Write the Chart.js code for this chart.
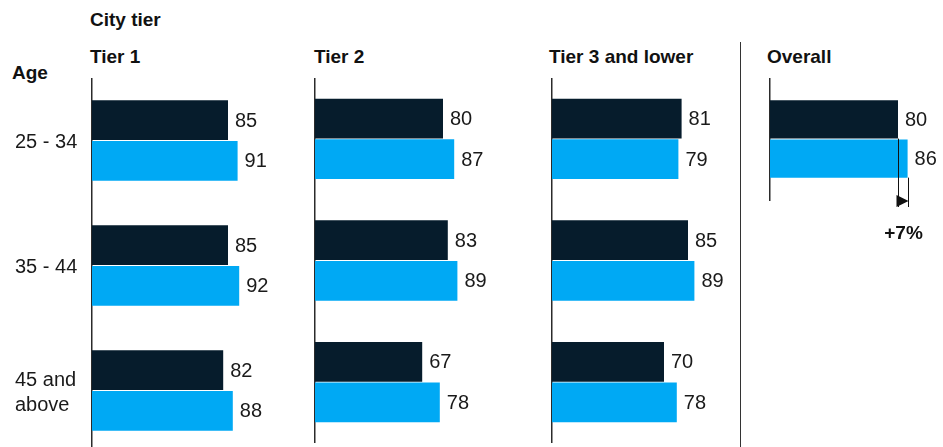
<!DOCTYPE html>
<html>
<head>
<meta charset="utf-8">
<script src="https://cdn.jsdelivr.net/npm/chart.js@4.4.0/dist/chart.umd.min.js"></script>
<style>
  body { margin: 0; width: 943px; height: 447px; overflow: hidden; background: #fff; position: relative;
         font-family: "Liberation Sans", Arial, sans-serif; color: #111; }
  .t { position: absolute; font-size: 19px; font-weight: bold; line-height: 22px; white-space: nowrap; }
  .box { position: absolute; }
  #sep { position: absolute; left: 740px; top: 42px; width: 1px; height: 405px; background: #333; }
</style>
</head>
<body>
<div class="t" style="left:90px; top:9px;">City tier</div>
<div class="t" style="left:90px; top:46px;">Tier 1</div>
<div class="t" style="left:314px; top:46px;">Tier 2</div>
<div class="t" style="left:549px; top:46px;">Tier 3 and lower</div>
<div class="t" style="left:767px; top:46px;">Overall</div>
<div class="t" style="left:12px; top:62px;">Age</div>
<div id="sep"></div>

<div class="box" style="left:0px; top:78px; width:300px; height:375px;"><canvas id="tier1"></canvas></div>
<div class="box" style="left:314px; top:78px; width:226px; height:365px;"><canvas id="tier2"></canvas></div>
<div class="box" style="left:551px; top:78px; width:188px; height:365px;"><canvas id="tier3"></canvas></div>
<div class="box" style="left:769px; top:78px; width:174px; height:172px;"><canvas id="overall"></canvas></div>

<script>
// data
const ageGroups = ["25 - 34", "35 - 44", ["45 and", "above"]];
const tier1Dark = [85, 85, 82];
const tier1Blue = [91, 92, 88];
const tier2Dark = [80, 83, 67];
const tier2Blue = [87, 89, 78];
const tier3Dark = [81, 85, 70];
const tier3Blue = [79, 89, 78];
const overallLabels = ["Overall"];
const overallDark = [80];
const overallBlue = [86];
const overallChange = "+7%";

const darkColor = "#061c2c";
const blueColor = "#00a9f4";
const pxPerUnit = 1.6;
const fontName = "'Liberation Sans', Arial, sans-serif";

// value labels next to the bars
const valueLabels = {
    id: 'valueLabels',
    afterDatasetsDraw(chart) {
        const ctx = chart.ctx;
        ctx.save();
        ctx.font = "20px " + fontName;
        ctx.fillStyle = "#1a1a1a";
        ctx.textBaseline = "middle";
        ctx.textAlign = "left";
        chart.data.datasets.forEach(function (ds, i) {
            const meta = chart.getDatasetMeta(i);
            meta.data.forEach(function (bar, j) {
                ctx.fillText(ds.data[j], bar.x + 7, bar.y + 1);
            });
        });
        ctx.restore();
    }
};

// difference marker under the overall bars
const changeMarker = {
    id: 'changeMarker',
    afterDatasetsDraw(chart) {
        const ctx = chart.ctx;
        const xs = chart.scales.x;
        const darkBar = chart.getDatasetMeta(0).data[0];
        const blueBar = chart.getDatasetMeta(1).data[0];
        const x1 = Math.round(xs.getPixelForValue(overallDark[0])) + 0.5;
        const x2 = Math.round(xs.getPixelForValue(overallBlue[0])) + 0.5;
        const yTop = darkBar.y + darkBar.height / 2;
        const yBlueBottom = blueBar.y + blueBar.height / 2;
        const yEnd = chart.chartArea.bottom + 7;
        ctx.save();
        ctx.strokeStyle = "#111";
        ctx.lineWidth = 1;
        ctx.beginPath();
        ctx.moveTo(x1, yTop);
        ctx.lineTo(x1, yEnd);
        ctx.moveTo(x2, yBlueBottom);
        ctx.lineTo(x2, yEnd);
        ctx.stroke();
        ctx.fillStyle = "#111";
        ctx.beginPath();
        ctx.moveTo(x1 - 2, yEnd - 12);
        ctx.lineTo(x2, yEnd - 6);
        ctx.lineTo(x1 - 2, yEnd);
        ctx.closePath();
        ctx.fill();
        ctx.font = "bold 19px " + fontName;
        ctx.textAlign = "center";
        ctx.textBaseline = "middle";
        ctx.fillText(overallChange, (x1 + x2) / 2, yEnd + 27);
        ctx.restore();
    }
};

function makeChart(id, labels, dark, blue, opts) {
    const ctx = document.getElementById(id).getContext('2d');
    const boxWidth = ctx.canvas.parentNode.clientWidth;
    const axisWidth = opts.axisWidth;
    const left = opts.padLeft || 0;
    const xMax = (boxWidth - left - axisWidth) / pxPerUnit;

    const config = {
        type: 'bar',
        data: {
            labels: labels,
            datasets: [
                { data: dark, backgroundColor: darkColor, barPercentage: 0.98, categoryPercentage: opts.catPct },
                { data: blue, backgroundColor: blueColor, barPercentage: 0.98, categoryPercentage: opts.catPct },
            ],
        },
        options: {
            indexAxis: 'y',
            responsive: true,
            maintainAspectRatio: false,
            animation: false,
            layout: { padding: { left: left, right: 0, top: 0, bottom: opts.padBottom || 0 } },
            plugins: { legend: { display: false }, tooltip: { enabled: false } },
            scales: {
                x: { display: false, min: 0, max: xMax },
                y: {
                    display: true,
                    grid: { display: false, drawTicks: false },
                    border: { display: true, color: "#2b2b2b", width: 1.5 },
                    ticks: {
                        display: opts.showTicks,
                        crossAlign: 'far',
                        padding: 0,
                        labelOffset: 2,
                        color: "#1a1a1a",
                        font: { family: fontName, size: 20, lineHeight: 1.25 },
                    },
                    afterFit: function (axis) {
                        axis.width = axisWidth;
                        axis.paddingTop = 0;
                        axis.paddingBottom = 0;
                    },
                },
            },
        },
        plugins: opts.plugins,
    };
    return new Chart(ctx, config);
}

makeChart('tier1', ageGroups, tier1Dark, tier1Blue,
    { axisWidth: 77, padLeft: 15, catPct: 0.65, showTicks: true, plugins: [valueLabels] });
makeChart('tier2', ageGroups, tier2Dark, tier2Blue,
    { axisWidth: 1, catPct: 0.667, showTicks: false, plugins: [valueLabels] });
makeChart('tier3', ageGroups, tier3Dark, tier3Blue,
    { axisWidth: 1, catPct: 0.667, showTicks: false, plugins: [valueLabels] });
makeChart('overall', overallLabels, overallDark, overallBlue,
    { axisWidth: 1, catPct: 0.64, padBottom: 50, showTicks: false, plugins: [valueLabels, changeMarker] });
</script>
</body>
</html>
